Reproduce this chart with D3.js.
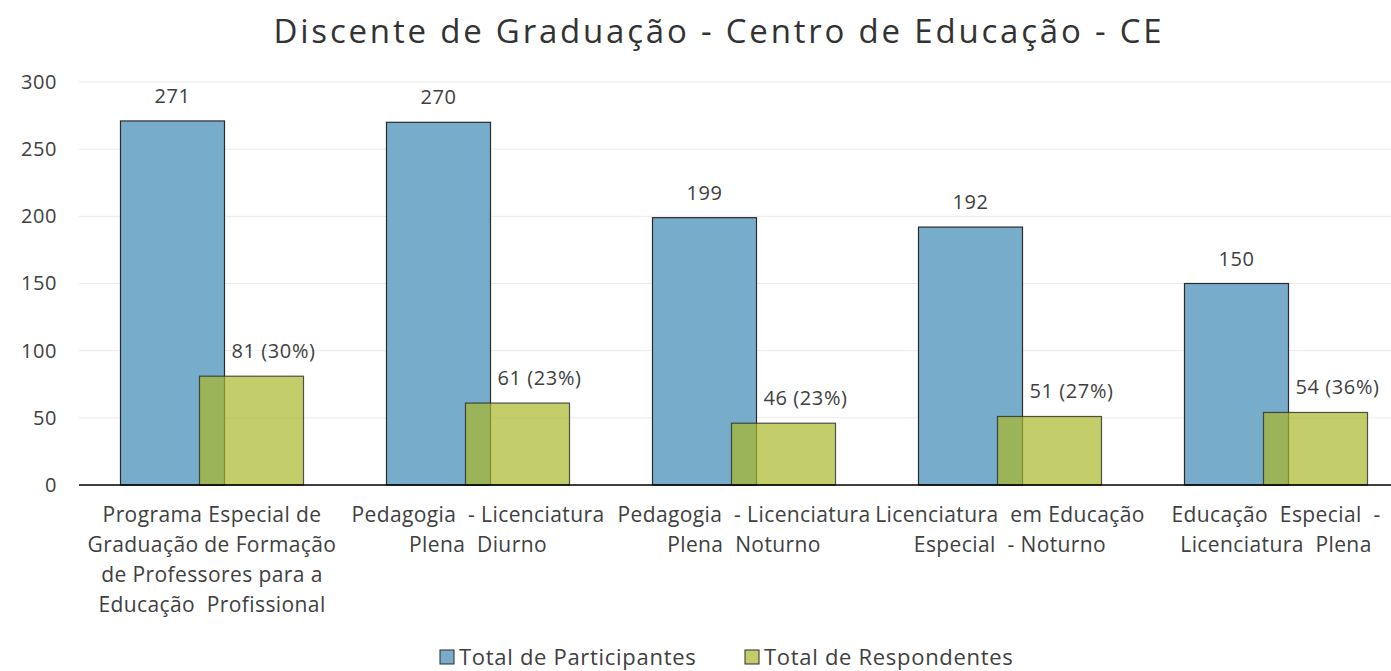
<!DOCTYPE html>
<html>
<head>
<meta charset="utf-8">
<script src="https://cdn.jsdelivr.net/npm/d3@7"></script>
<style>
  body { margin: 0; background: #fff; }
  text { font-family: "Open Sans", "Noto Sans", sans-serif; fill: #404040; }
</style>
</head>
<body>
<div id="chart"></div>
<script>
// data
var cursos = [
    ["Programa Especial de", "Graduação de Formação", "de Professores para a", "Educação  Profissional"],
    ["Pedagogia  - Licenciatura", "Plena  Diurno"],
    ["Pedagogia  - Licenciatura", "Plena  Noturno"],
    ["Licenciatura  em Educação", "Especial  - Noturno"],
    ["Educação  Especial  -", "Licenciatura  Plena"]
];
var participantes = [271, 270, 199, 192, 150];
var respondentes = [81, 61, 46, 51, 54];
var percentuais = ["30%", "23%", "23%", "27%", "36%"];
var yTicks = [0, 50, 100, 150, 200, 250, 300];
var series = ["Total de Participantes", "Total de Respondentes"];

var W = 1391, H = 671;
var margin = { top: 82, bottom: 186, left: 79 };
var y0 = H - margin.bottom; // 485

var svg = d3.select("#chart").append("svg")
    .attr("width", W)
    .attr("height", H);

// title
svg.append("text")
    .attr("x", 719)
    .attr("y", 43)
    .attr("text-anchor", "middle")
    .style("font-size", "33px")
    .style("letter-spacing", "2.8px")
    .style("fill", "#333")
    .text("Discente de Graduação - Centro de Educação - CE");

var x = d3.scaleBand()
    .domain(d3.range(cursos.length))
    .range([margin.left, margin.left + 266 * cursos.length])
    .paddingInner(0.312)
    .paddingOuter(0.156);

var y = d3.scaleLinear()
    .domain([0, 300])
    .range([y0, margin.top]);

// bar geometry inside a group: two bars of ~104px with ~25px overlap
var barW = x.bandwidth() * 104 / 183;
var shift = x.bandwidth() - barW;

// gridlines
svg.append("g")
    .selectAll("line")
    .data(yTicks.slice(1))
    .enter().append("line")
    .attr("x1", margin.left)
    .attr("x2", W)
    .attr("y1", d => y(d))
    .attr("y2", d => y(d))
    .attr("stroke", "#ebebeb")
    .attr("stroke-width", 1);

// y axis labels
var yAxis = svg.append("g")
    .attr("transform", "translate(" + margin.left + ",0)")
    .call(d3.axisLeft(y).tickValues(yTicks).tickSize(0).tickPadding(22));
yAxis.select(".domain").remove();
yAxis.selectAll("text")
    .style("font-size", "20px")
    .style("letter-spacing", "0.6px")
    .style("font-family", "Open Sans, sans-serif")
    .attr("fill", "#404040");

// blue bars
svg.append("g")
    .selectAll("rect")
    .data(participantes)
    .enter().append("rect")
    .attr("x", (d, i) => x(i))
    .attr("y", d => y(d))
    .attr("width", barW)
    .attr("height", d => y0 - y(d))
    .attr("fill", "#78accb")
    .attr("stroke", "#2b2b2b")
    .attr("stroke-width", 1.2);

// green bars (semi transparent, drawn over the blue)
svg.append("g")
    .selectAll("rect")
    .data(respondentes)
    .enter().append("rect")
    .attr("x", (d, i) => x(i) + shift)
    .attr("y", d => y(d))
    .attr("width", barW)
    .attr("height", d => y0 - y(d))
    .attr("fill", "#a9b82a")
    .attr("fill-opacity", 0.7)
    .attr("stroke", "#2b2b2b")
    .attr("stroke-opacity", 0.8)
    .attr("stroke-width", 1.2);

// value labels
svg.append("g")
    .selectAll("text")
    .data(participantes)
    .enter().append("text")
    .attr("x", (d, i) => x(i) + barW / 2)
    .attr("y", d => y(d) - 18)
    .attr("text-anchor", "middle")
    .style("font-size", "20px")
    .style("letter-spacing", "0.6px")
    .text(d => d);

svg.append("g")
    .selectAll("text")
    .data(respondentes)
    .enter().append("text")
    .attr("x", (d, i) => x(i) + shift + barW / 2 + 22)
    .attr("y", d => y(d) - 18)
    .attr("text-anchor", "middle")
    .style("font-size", "20px")
    .style("letter-spacing", "0.6px")
    .text((d, i) => d + " (" + percentuais[i] + ")");

// x axis line
svg.append("line")
    .attr("x1", margin.left)
    .attr("x2", W)
    .attr("y1", y0)
    .attr("y2", y0)
    .attr("stroke", "#000")
    .attr("stroke-width", 1.5);

// category labels, several lines each
var cat = svg.append("g")
    .selectAll("text")
    .data(cursos)
    .enter().append("text")
    .attr("text-anchor", "middle")
    .attr("x", (d, i) => x(i) + x.bandwidth() / 2)
    .attr("y", y0 + 37)
    .style("font-size", "21px")
    .style("letter-spacing", "0.4px")
    .style("white-space", "pre");
cat.selectAll("tspan")
    .data(d => d)
    .enter().append("tspan")
    .attr("x", function () { return this.parentNode.getAttribute("x"); })
    .attr("dy", (d, j) => j === 0 ? 0 : 30)
    .text(d => d);

// legend
var legX = [440, 745];
var colors = ["#78accb", "#c3cc6a"];
var leg = svg.append("g")
    .selectAll("g")
    .data(series)
    .enter().append("g")
    .attr("transform", (d, i) => "translate(" + legX[i] + ",650)");
leg.append("rect")
    .attr("width", 14)
    .attr("height", 14)
    .attr("fill", (d, i) => colors[i])
    .attr("stroke", "#2b2b2b")
    .attr("stroke-width", 1);
leg.append("text")
    .attr("x", 19)
    .attr("y", 15)
    .style("font-size", "22px")
    .style("letter-spacing", "0.7px")
    .text(d => d);
</script>
</body>
</html>
